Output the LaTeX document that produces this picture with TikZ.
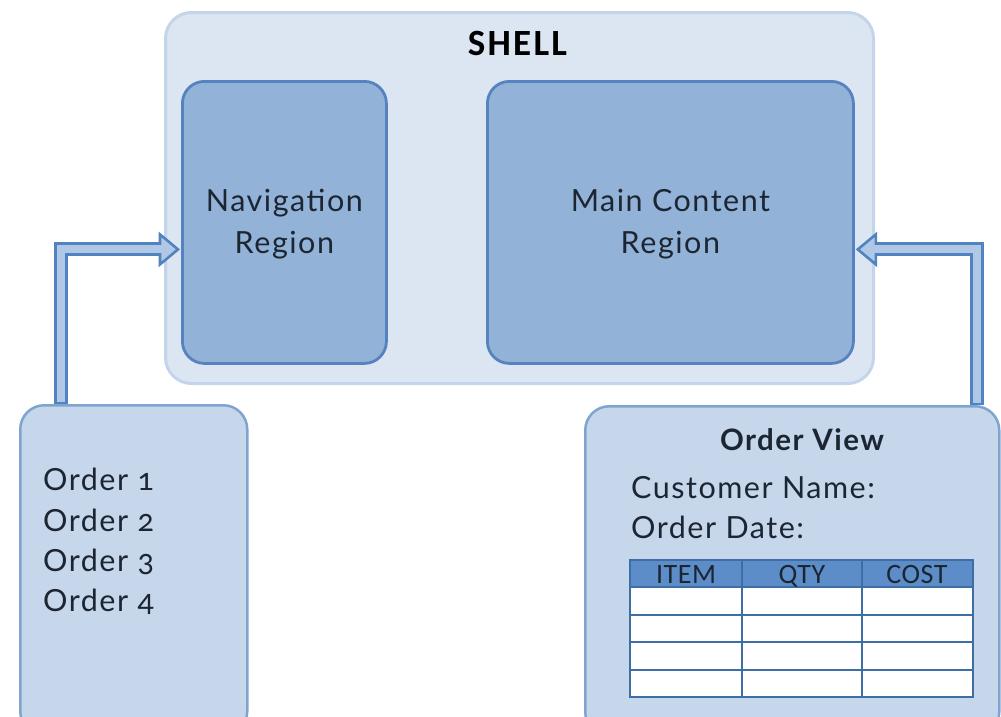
\documentclass[tikz,border=0pt]{standalone}
\usepackage{fontspec}
\setmainfont{Lato}[Numbers=OldStyle, LetterSpace=5]
\newfontfamily\headfont{Carlito}[LetterSpace=6]
\newfontfamily\cellfont{Carlito}[LetterSpace=2]
\usetikzlibrary{calc}

\definecolor{shellfill}{HTML}{DCE6F2}
\definecolor{shelledge}{HTML}{C4D5EB}
\definecolor{regionfill}{HTML}{93B2D8}
\definecolor{regionedge}{HTML}{5683BF}
\definecolor{viewfill}{HTML}{C6D6EB}
\definecolor{viewedge}{HTML}{7FA4D0}
\definecolor{arrowedge}{HTML}{5083C0}
\definecolor{arrowfill}{HTML}{B0C8E6}
\definecolor{tablehead}{HTML}{5D8DC8}
\definecolor{tableline}{HTML}{3E6EA6}
\definecolor{inktext}{HTML}{1C2633}

\tikzset{
  shellbox/.style={draw=shelledge, fill=shellfill, line width=3pt, rounded corners=26pt},
  regionbox/.style={draw=regionedge, fill=regionfill, line width=2.8pt, rounded corners=22pt},
  viewbox/.style={draw=viewedge, fill=viewfill, line width=2.5pt, rounded corners=24pt},
  label/.style={text=inktext, font=\fontsize{30.5}{42}\selectfont, inner sep=0pt},
  headlabel/.style={text=inktext, font=\cellfont\fontsize{28}{30}\selectfont, inner sep=0pt, anchor=base},
  shaftout/.style={draw=arrowedge, line width=14pt},
  shaftin/.style={draw=arrowfill, line width=8pt},
  headtri/.style={draw=arrowedge, fill=arrowfill, line width=2.6pt, line join=miter},
  cell/.style={draw=tableline, line width=2pt},
}

\begin{document}
\begin{tikzpicture}[x=1pt, y=-1pt]
  \useasboundingbox (0,0) rectangle (1001,716);
  \clip (0,0) rectangle (1001,716);

  % Shell container with its two regions
  \node[shellbox, minimum width=708pt, minimum height=371pt, anchor=north west, inner sep=0pt]
    (shellbg) at (164,11) {};
  \node[font=\headfont\bfseries\fontsize{37}{40}\selectfont, text=black, inner sep=0pt, anchor=base]
    (shell) at ($(shellbg.north |- 0,55)+(-2,0)$) {SHELL};

  \node[regionbox, minimum width=204pt, minimum height=282pt, anchor=north west, inner sep=0pt]
    (nav) at (181,80) {};
  \node[regionbox, minimum width=366pt, minimum height=282pt, anchor=north west, inner sep=0pt]
    (main) at (486,80) {};

  % two-line labels: the base anchor sits on the last line
  \node[label, align=center, anchor=base] (navtxt) at (nav.north |- 0,253)
    {Navigation\\Region};
  \node[label, align=center, anchor=base] (maintxt) at (main.north |- 0,253)
    {Main Content\\Region};

  % Views loaded into the regions
  \node[viewbox, minimum width=227pt, minimum height=330pt, anchor=north west, inner sep=0pt]
    (orders) at (19,404) {};
  \node[viewbox, minimum width=414pt, minimum height=330pt, anchor=north west, inner sep=0pt]
    (detail) at (584,405) {};

  \node[label, anchor=base west] (o1) at (43,490) {Order 1};
  \node[label, anchor=base west] (o2) at (43,531) {Order 2};
  \node[label, anchor=base west] (o3) at (43,571) {Order 3};
  \node[label, anchor=base west] (o4) at (43,611) {Order 4};

  \node[label, font=\bfseries\fontsize{29.5}{32}\selectfont, anchor=base] (vt) at (802,450) {Order View};
  \node[label, anchor=base west] (cn) at (631,498) {Customer Name:};
  \node[label, anchor=base west] (od) at (631,538) {Order Date:};

  % Order line table
  \fill[white] (630,587) rectangle (973,697);
  \fill[tablehead] (630,560) rectangle (973,587);
  \foreach \y in {587,615,642,670} \draw[cell] (630,\y) -- (973,\y);
  \foreach \x in {742,862} \draw[cell] (\x,560) -- (\x,697);
  \draw[cell] (630,560) rectangle (973,697);
  \node[headlabel] (h1) at (686,583) {ITEM};
  \node[headlabel] (h2) at (802,583) {QTY};
  \node[headlabel] (h3) at (917,583) {COST};

  % Arrow from the order list up into the navigation region
  \coordinate (lstart) at ($(orders.north west)+(42,0)$);
  \coordinate (ltip) at ($(nav.west)+(-3,27)$);
  \coordinate (lbase) at ($(ltip)+(-18,0)$);
  \draw[shaftout] (lstart) |- ($(lbase)+(1,0)$);
  \draw[headtri] (ltip) -- ($(lbase)+(0,-15)$) -- ($(lbase)+(0,15)$) -- cycle;
  \draw[shaftin] ($(lstart)+(0,-2)$) |- ($(lbase)+(3,0)$);

  % Arrow from the order view up into the main content region
  \coordinate (rstart) at ($(detail.north east)+(-24,0)$);
  \coordinate (rtip) at ($(main.east)+(3,27)$);
  \coordinate (rbase) at ($(rtip)+(18,0)$);
  \draw[shaftout] (rstart) |- ($(rbase)+(-1,0)$);
  \draw[headtri] (rtip) -- ($(rbase)+(0,-15)$) -- ($(rbase)+(0,15)$) -- cycle;
  \draw[shaftin] ($(rstart)+(0,-2)$) |- ($(rbase)+(-3,0)$);
\end{tikzpicture}
\end{document}
